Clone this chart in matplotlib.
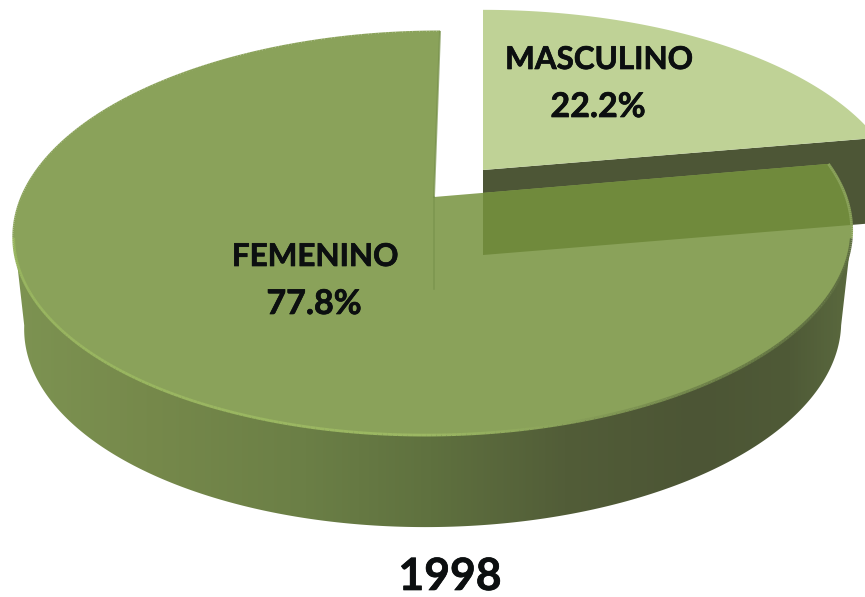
import numpy as np
import matplotlib
matplotlib.use('Agg')
import matplotlib.pyplot as plt
import matplotlib.patheffects as pe
from matplotlib.collections import LineCollection
from matplotlib.colors import LinearSegmentedColormap, to_rgba
from matplotlib.patches import Polygon

categories = ['MASCULINO', 'FEMENINO']
percentages = [22.2, 77.8]
year_label = '1998'

# look of the 3D pie, measured in pixels of the target
K = 0.181
RX = 412
RY = 195
DEPTH = 92
SLICE_DEPTH = 85


def project(angle, apex, shear=0.0, drop=0.0, sx=1.0, sy=1.0):
    """Angle in degrees clockwise from 12 o'clock, disc edge seen in perspective."""
    t = np.radians(angle)
    u, v = np.sin(t), np.cos(t)
    up = sy * RY * v / (1 + K * v)
    x = apex[0] + sx * RX * u / (1 + K * v) + shear * up
    y = apex[1] - up + drop
    return x, y


def face(start, stop, apex, shear=0.0, sy=1.0):
    a = np.linspace(start, stop, 300)
    x, y = project(a, apex, shear, sy=sy)
    return np.column_stack([np.r_[apex[0], x], np.r_[apex[1], y]])


split = percentages[0] / sum(percentages) * 360
main_apex = (434, 197)
slice_apex = (483, 170)
main_shear = 6 / 165
slice_sy = 0.97
bottom_sx = 0.975

fig, ax = plt.subplots(figsize=(8.65, 5.97), dpi=100)
fig.subplots_adjust(0, 0, 1, 1)

wall_cmap = LinearSegmentedColormap.from_list('wall', [
    (0.0, '#7d9352'), (0.16, '#76894b'), (0.35, '#6b7f46'), (0.5, '#5f713f'),
    (0.66, '#525d38'), (0.82, '#4c5535'), (0.93, '#4f5a37'), (1.0, '#5a693e')])

# outer wall of the big slice, between the two points where the rim turns away
tangent = np.degrees(np.arccos(-K))
angles = np.linspace(tangent, 360 - tangent, 500)
xt, yt = project(angles, main_apex, main_shear)
xb, yb = project(angles, main_apex, main_shear, DEPTH, sx=bottom_sx)
wall_outline = Polygon(np.column_stack([np.r_[xt, xb[::-1]], np.r_[yt, yb[::-1]]]),
                       closed=True, fc='none', ec='none')
ax.add_patch(wall_outline)
gradient = np.linspace(0, 1, 512).reshape(1, -1)
img = ax.imshow(gradient, cmap=wall_cmap, extent=(12, 850, 540, 150), aspect='auto', zorder=1)
img.set_clip_path(wall_outline)

# pulled-out slice, wall first
sx, sy = project(split, slice_apex, sy=slice_sy)
slice_wall = [(slice_apex[0], slice_apex[1]), (sx, sy), (sx, sy + SLICE_DEPTH),
              (slice_apex[0], slice_apex[1] + SLICE_DEPTH)]
ax.add_patch(Polygon(slice_wall, closed=True, fc='#4d5636', ec='none', zorder=2))
ax.add_patch(Polygon(face(0, split, slice_apex, sy=slice_sy), closed=True, fc='#bfd296', ec='none', zorder=2))

# top of the big slice, with the pulled-out wall showing through it
main_face = Polygon(face(split, 360, main_apex, main_shear), closed=True, fc='#8aa25a', ec='none', zorder=3)
ax.add_patch(main_face)
through = Polygon(slice_wall, closed=True, fc='#708a3c', ec='none', zorder=3)
ax.add_patch(through)
through.set_clip_path(main_face)

# lit rim on the front of the top face
rim_a = np.linspace(split, 360, 500)
rx, ry = project(rim_a, main_apex, main_shear)
rim = [[(rx[i], ry[i]), (rx[i + 1], ry[i + 1])] for i in range(len(rim_a) - 1)]
rim_cmap = LinearSegmentedColormap.from_list('rim', [
    (0.0, '#98b55f'), (0.5, '#9cb863'), (0.66, '#8aa25a'), (0.85, '#6c7f48'), (1.0, '#5d6d40')])
rim_cols = rim_cmap(np.clip((rx[:-1] - 12) / 838, 0, 1))
rim_cols[ry[:-1] < 238] = to_rgba('#8aa25a')
ax.add_collection(LineCollection(rim, colors=rim_cols, linewidths=2.0, zorder=4))

# faint seam along the inner cut of the big slice
ex, ey = project(360, main_apex, main_shear)
ax.plot([ex, main_apex[0]], [ey, main_apex[1]], color='#76904a', lw=1.4, alpha=0.7, zorder=4)
ax.plot([main_apex[0], main_apex[0]], [main_apex[1], main_apex[1] + DEPTH], color='#76904a', lw=1.2, alpha=0.6, zorder=4)

font = dict(family='Lato', fontweight='bold', color='#0c0f10', ha='center', va='center', zorder=5,
            path_effects=[pe.withStroke(linewidth=0.5, foreground='#0c0f10')])
ax.text(599, 60, categories[0], fontsize=22.6, **font)
ax.text(598, 107, f'{percentages[0]:.1f}%', fontsize=24.5, **font)
ax.text(315, 257, categories[1], fontsize=22.6, **font)
ax.text(314, 304, f'{percentages[1]:.1f}%', fontsize=24.5, **font)
ax.text(450, 577, year_label, fontsize=32, **font)

ax.set_xlim(0, 865)
ax.set_ylim(597, 0)
ax.axis('off')

fig.savefig('out.png', dpi=100)
plt.close(fig)
